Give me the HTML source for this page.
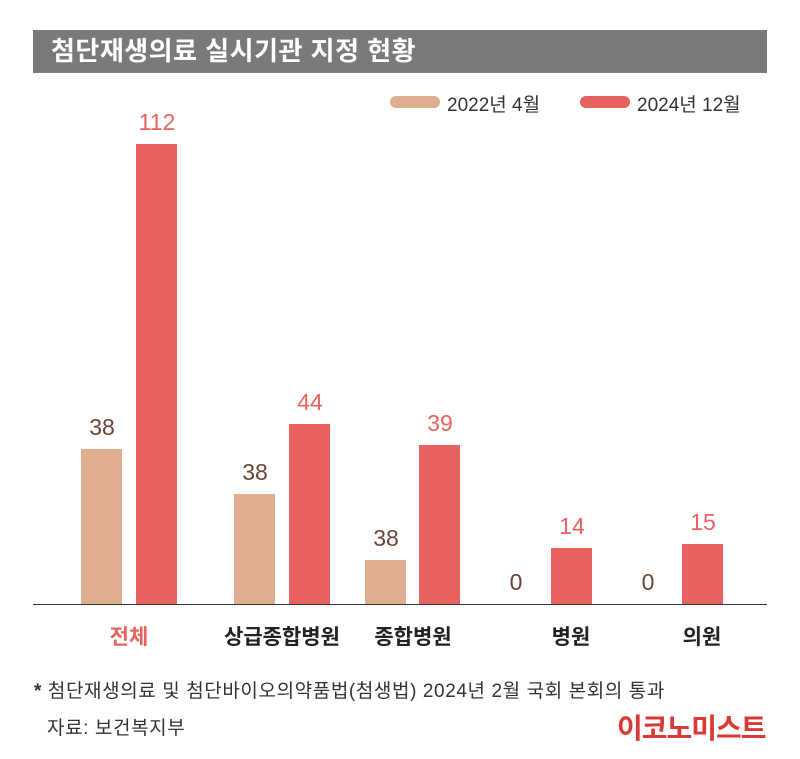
<!DOCTYPE html>
<html><head><meta charset="utf-8"><style>
body{margin:0;background:#fff;width:800px;height:759px;position:relative;overflow:hidden;font-family:"Liberation Sans","Noto Sans CJK KR",sans-serif}
.a{position:absolute;white-space:nowrap}
.t{background:#7a7a7a;left:33px;top:30px;width:734px;height:43px;color:#fff;font-size:26px;font-weight:bold;line-height:43px;padding-left:18px;box-sizing:border-box;letter-spacing:0.5px}
.tan{background:#deae8e}.red{background:#e8625f}
.v{font-size:23px;text-align:center;width:60px;margin-left:-9px}
.vt{color:#6b4636}.vr{color:#e8625f}
.c{font-size:21px;font-weight:bold;text-align:center;width:160px;top:621px;letter-spacing:0px}
</style></head><body>
<div class="a t">첨단재생의료 실시기관 지정 현황</div>
<div class="a tan" style="left:390px;top:96px;width:50px;height:12px;border-radius:6px"></div>
<div class="a" style="left:447px;top:90px;font-size:19px;color:#333">2022년 4월</div>
<div class="a red" style="left:580px;top:96px;width:50px;height:12px;border-radius:6px"></div>
<div class="a" style="left:637px;top:90px;font-size:19px;color:#333">2024년 12월</div>

<div class="a tan" style="left:81px;top:449px;width:41px;height:155px"></div>
<div class="a red" style="left:136px;top:144px;width:41px;height:460px"></div>
<div class="a tan" style="left:234px;top:494px;width:41px;height:110px"></div>
<div class="a red" style="left:289px;top:424px;width:41px;height:180px"></div>
<div class="a tan" style="left:365px;top:560px;width:41px;height:44px"></div>
<div class="a red" style="left:419px;top:445px;width:41px;height:159px"></div>
<div class="a red" style="left:551px;top:548px;width:41px;height:56px"></div>
<div class="a red" style="left:682px;top:544px;width:41px;height:60px"></div>
<div class="a" style="left:33px;top:604px;width:734px;height:1px;background:#333"></div>

<div class="a v vt" style="left:81px;top:414px">38</div>
<div class="a v vr" style="left:136px;top:109px">112</div>
<div class="a v vt" style="left:234px;top:459px">38</div>
<div class="a v vr" style="left:289px;top:389px">44</div>
<div class="a v vt" style="left:365px;top:525px">38</div>
<div class="a v vr" style="left:419px;top:410px">39</div>
<div class="a v vt" style="left:495px;top:569px">0</div>
<div class="a v vr" style="left:551px;top:513px">14</div>
<div class="a v vt" style="left:627px;top:569px">0</div>
<div class="a v vr" style="left:682px;top:509px">15</div>

<div class="a c" style="left:49px;color:#e8625f">전체</div>
<div class="a c" style="left:202px;color:#222">상급종합병원</div>
<div class="a c" style="left:333px;color:#222">종합병원</div>
<div class="a c" style="left:491px;color:#222">병원</div>
<div class="a c" style="left:622px;color:#222">의원</div>

<div class="a" style="left:34px;top:676px;font-size:19px;color:#333;letter-spacing:0.6px"><b>*</b> 첨단재생의료 및 첨단바이오의약품법(첨생법) 2024년 2월 국회 본회의 통과</div>
<div class="a" style="left:47px;top:713px;font-size:19px;color:#333;letter-spacing:0.6px">자료: 보건복지부</div>
<div class="a" style="left:617px;top:707px;font-size:28px;font-weight:bold;color:#d93a36;letter-spacing:-1px">이코노미스트</div>
</body></html>
